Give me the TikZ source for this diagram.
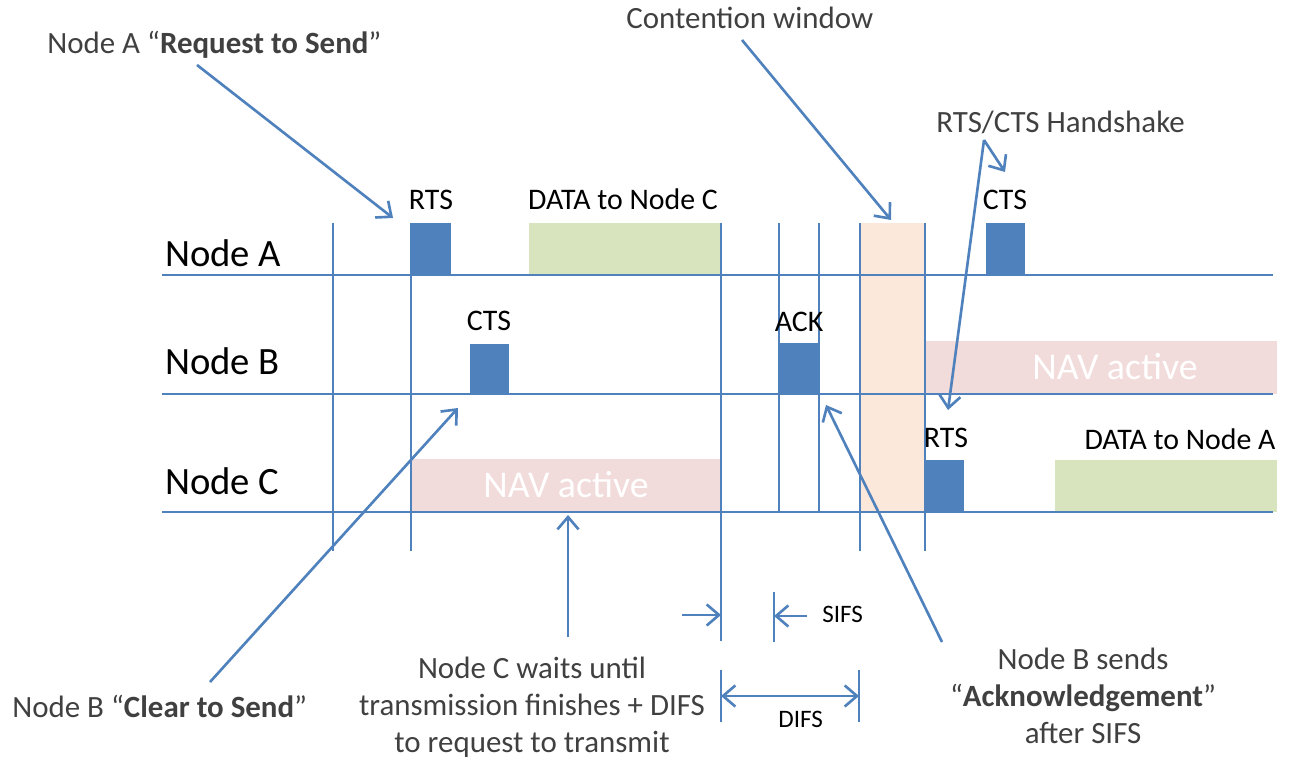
\documentclass[tikz,border=0pt]{standalone}
\usepackage{fontspec}
\setmainfont{Carlito}
\usetikzlibrary{arrows.meta}

\definecolor{lineblue}{HTML}{4F81BD}
\definecolor{datagreen}{HTML}{D7E4BD}
\definecolor{navpink}{HTML}{F2DCDB}
\definecolor{cwpeach}{HTML}{FCE8DA}
\definecolor{notegray}{HTML}{404040}

\tikzset{
    timeline/.style={lineblue, line width=1.2pt},
    pointer/.style={lineblue, line width=1.5pt, -{Straight Barb[length=7pt,width=12pt]}},
    boxlabel/.style={font=\fontsize{17}{20}\selectfont, text=black, inner sep=0pt, anchor=base},
    rowlabel/.style={font=\fontsize{22}{26}\selectfont, text=black, inner sep=0pt, anchor=base west},
    navlabel/.style={font=\fontsize{21.5}{26}\selectfont, text=white, inner sep=0pt, anchor=base west},
    annot/.style={font=\fontsize{17.6}{21}\selectfont, text=notegray, inner sep=0pt, align=center},
    gaplabel/.style={font=\fontsize{14.3}{17}\selectfont, text=black, inner sep=0pt, anchor=base west}
}

\begin{document}
\begin{tikzpicture}[x=0.02cm,y=-0.02cm]
    \useasboundingbox (0,0) rectangle (1290,759);

    % coloured bars
    \fill[datagreen] (529,223) rectangle (721,275);
    \fill[navpink] (411,459) rectangle (721,512);
    \fill[navpink] (925,341) rectangle (1277,394);
    \fill[datagreen] (1055,460) rectangle (1277,512);
    \fill[cwpeach] (860,223) rectangle (925,512);

    % frames
    \fill[lineblue] (411,223) rectangle (451,275);
    \fill[lineblue] (470,344) rectangle (509,394);
    \fill[lineblue] (779,343) rectangle (819,394);
    \fill[lineblue] (986,223) rectangle (1025,275);
    \fill[lineblue] (925,460) rectangle (964,512);

    % x line
    \draw[timeline] (162,275) -- (1273,275);
    \draw[timeline] (162,394) -- (1273,394);
    \draw[timeline] (162,512) -- (1273,512);

    % y line
    \draw[timeline] (333,223) -- (333,551);
    \draw[timeline] (411,223) -- (411,551);
    \draw[timeline] (721,223) -- (721,641);
    \draw[timeline] (779,223) -- (779,512);
    \draw[timeline] (819,223) -- (819,512);
    \draw[timeline] (860,223) -- (860,551);
    \draw[timeline] (925,223) -- (925,551);

    % SIFS and DIFS marks
    \draw[timeline] (774,592) -- (774,642);
    \draw[timeline] (721,670) -- (721,722);
    \draw[timeline] (859,670) -- (859,722);

    % lecter
    \node[rowlabel] (nodeA) at (165,267) {Node A};
    \node[rowlabel] (nodeB) at (165,375) {Node B};
    \node[rowlabel] (nodeC) at (165,495) {Node C};

    \node[boxlabel] (rtsA) at (431,210) {RTS};
    \node[boxlabel] (dataC) at (623,210) {DATA to Node C};
    \node[boxlabel] (ctsB) at (489,331) {CTS};
    \node[boxlabel] (ack) at (799,332) {ACK};
    \node[boxlabel] (ctsA) at (1005,210) {CTS};
    \node[boxlabel] (rtsC) at (946,448) {RTS};
    \node[boxlabel] (dataA) at (1180,450) {DATA to Node A};

    \node[navlabel] (navC) at (483,498) {NAV active};
    \node[navlabel] (navB) at (1032,380) {NAV active};

    \node[gaplabel] (sifs) at (822,622) {SIFS};
    \node[gaplabel] (difs) at (778,727) {DIFS};

    % notes
    \node[annot, anchor=base west] (reqNote) at (47,54) {Node A “\textbf{Request to Send}”};
    \node[annot, anchor=base west] (cwNote) at (626,29) {Contention window};
    \node[annot, anchor=base west] (hsNote) at (936,133) {RTS/CTS Handshake};
    \node[annot, anchor=base west] (clrNote) at (12,717) {Node B “\textbf{Clear to Send}”};
    \node[annot] (waitNote) at (532,707) {Node C waits until\\transmission finishes + DIFS\\to request to transmit};
    \node[annot] (ackNote) at (1083,696) {Node B sends\\“\textbf{Acknowledgement}”\\after SIFS};

    % arrow ends
    \coordinate (reqStart) at (197,65);   \coordinate (reqEnd) at (393,218);
    \coordinate (cwStart) at (742,40);    \coordinate (cwEnd) at (891,220);
    \coordinate (hsStart) at (984,140);
    \coordinate (hsCts) at (1005,172);    \coordinate (hsRts) at (948,410);
    \coordinate (clrStart) at (210,682);  \coordinate (clrEnd) at (458,408);
    \coordinate (waitStart) at (568,637); \coordinate (waitEnd) at (568,515);
    \coordinate (ackStart) at (942,642);  \coordinate (ackEnd) at (826,405);
    \coordinate (sifsL) at (682,615);     \coordinate (sifsLEnd) at (721,615);
    \coordinate (sifsR) at (807,616);     \coordinate (sifsREnd) at (774,616);
    \coordinate (difsL) at (721,696);     \coordinate (difsR) at (859,696);

    % arrows
    \draw[pointer] (reqStart) -- (reqEnd);
    \draw[pointer] (cwStart) -- (cwEnd);
    \draw[pointer] (hsStart) -- (hsCts);
    \draw[pointer] (hsStart) -- (hsRts);
    \draw[pointer] (clrStart) -- (clrEnd);
    \draw[pointer] (waitStart) -- (waitEnd);
    \draw[pointer] (ackStart) -- (ackEnd);
    \draw[pointer] (sifsL) -- (sifsLEnd);
    \draw[pointer] (sifsR) -- (sifsREnd);
    \draw[pointer, {Straight Barb[length=7pt,width=12pt]}-{Straight Barb[length=7pt,width=12pt]}] (difsL) -- (difsR);
\end{tikzpicture}
\end{document}
